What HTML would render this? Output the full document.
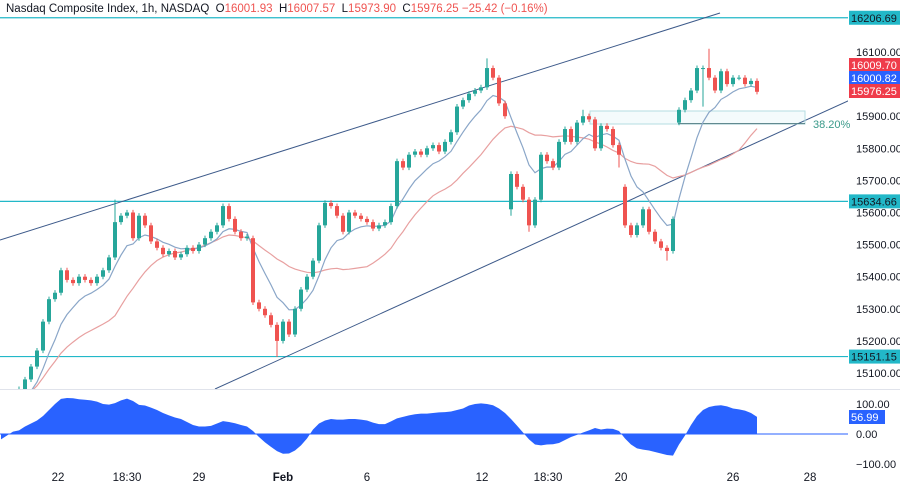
<!DOCTYPE html>
<html><head><meta charset="utf-8">
<style>
html,body{margin:0;padding:0;background:#fff;}
svg{display:block;font-family:"Liberation Sans",sans-serif;}
</style></head>
<body>
<svg id="chart" width="900" height="485" viewBox="0 0 900 485" xmlns="http://www.w3.org/2000/svg">
<defs><clipPath id="pc"><rect x="0" y="0" width="848" height="389"/></clipPath><clipPath id="oc"><rect x="0" y="390" width="848" height="75"/></clipPath></defs>
<g id="grid"></g>
<g id="price" clip-path="url(#pc)"></g>
<g id="osc" clip-path="url(#oc)"></g>
<g id="axes"></g>
</svg>
<script>
const closes=[14980,15000,15020,15050,
15080,15120,15170,15260,15330,15350,15420,15390,15380,15400,15390,15380,15400,15420,15460,15570,15590,15600,15520,15590,15560,15510,15490,15470,15480,15460,15470,15490,15480,15500,15520,15540,15560,15620,15580,15540,15520,15525,
15320,15300,15280,15250,15200,15260,15220,15300,15360,15400,15450,15560,15630,15620,15590,15540,15600,15590,15580,15570,15550,15560,15570,15620,15760,15740,15780,15790,15780,15800,15810,15790,15820,15850,15930,15950,15970,15980,15990,16050,16020,15940,15900,
15720,15680,15640,15560,15640,15780,15760,15740,15820,15860,15820,15880,15900,15890,15800,15870,15860,15810,15780,
15560,15530,15560,15610,15540,15510,15490,15480,15580,15920,15950,15980,16050,16050,16020,15980,16040,16000,16020,16020,16000,16010,15976];
const gapOpens={42:15520,85:15610,104:15680,113:15880};
const spikes={19:15640,46:15150,81:16080,85:15590,88:15540,97:15920,103:15740,111:15450,118:16110,117:15930};
const oscValues=[-18,-5,8,12,25,35,45,60,80,100,117,120,119,116,114,112,108,100,98,103,112,118,110,97,95,88,80,70,62,55,50,40,30,25,25,27,35,43,40,36,30,25,10,-10,-28,-43,-57,-66,-65,-55,-38,-15,15,35,45,50,48,48,50,50,48,45,38,33,33,42,52,57,62,66,68,68,70,72,73,75,80,85,95,100,102,100,96,85,70,50,28,5,-18,-35,-38,-35,-34,-30,-20,-10,-3,5,12,20,15,18,17,10,-15,-35,-48,-52,-55,-60,-65,-70,-72,-35,-5,30,60,80,90,94,96,92,85,82,78,70,57];
const priceTicks=[16100,15900,15800,15700,15600,15500,15400,15300,15200,15100];
const levels=[16206.69,15634.66,15151.15];
const oscTicks=[100,0,-100];
const xLabels=[["22",58],["18:30",127],["29",199],["Feb",283],["6",367],["12",482],["18:30",548],["20",621],["26",733],["28",810]];

const NS="http://www.w3.org/2000/svg";
const yP=p=>52+(16100-p)*0.321;
const yO=v=>434-v*0.3;
const xI=i=>1+i*6;
const G=id=>document.getElementById(id);
function mk(tag,attrs,parent){const e=document.createElementNS(NS,tag);for(const k in attrs)e.setAttribute(k,attrs[k]);parent.appendChild(e);return e;}
const price=G('price'),osc=G('osc'),axes=G('axes');
const UP="#26a69a",DN="#ef5350";

let sep=mk('line',{x1:0,y1:389.5,x2:900,y2:389.5,stroke:"#e0e3eb"},axes);



levels.forEach(l=>{const e=mk('line',{x1:0,x2:848,y1:yP(l),y2:yP(l),stroke:"#22b8c8","stroke-width":1.2},price);

});

let c1=mk('line',{x1:0,y1:240,x2:720,y2:13,stroke:"#3d5a8a","stroke-width":1},price);


let c2=mk('line',{x1:215,y1:389,x2:850,y2:100,stroke:"#3d5a8a","stroke-width":1},price);



let fb=mk('rect',{x:590,y:111,width:215,height:13,fill:"rgba(34,184,200,0.05)",stroke:"#b5dde2","stroke-width":1},price);


let fl=mk('line',{x1:678,x2:805,y1:yP(15877),y2:yP(15877),stroke:"#4c7a80"},price);


let ft=mk('text',{x:813,y:128,"font-size":11,fill:"#3a9a8a"},axes);ft.textContent="38.20%";



function ema(arr,n){const k=2/(n+1);let out=[],v=arr[0];arr.forEach(c=>{v=c*k+v*(1-k);out.push(v);});return out;}
function sma(arr,n){return arr.map((c,i)=>{const s=arr.slice(Math.max(0,i-n+1),i+1);return s.reduce((a,b)=>a+b,0)/s.length;});}
function maPath(vals){return vals.map((v,i)=>(i?"L":"M")+xI(i)+","+yP(v).toFixed(1)).join("");}
let mr=mk('path',{d:maPath(sma(closes,20)),fill:"none",stroke:"#e8a0a0","stroke-width":1.2},price);


let mb=mk('path',{d:maPath(ema(closes,8)),fill:"none",stroke:"#8aa6c8","stroke-width":1.2},price);



closes.forEach((c,i)=>{
  const o=(gapOpens[i]!==undefined)?gapOpens[i]:(i?closes[i-1]:c-10);
  let hi=Math.max(o,c)+8,lo=Math.min(o,c)-8;
  if(spikes[i]!==undefined){if(spikes[i]>hi)hi=spikes[i];if(spikes[i]<lo)lo=spikes[i];}
  const col=c>=o?UP:DN,x=xI(i);
  const g=mk('g',{},price);
  
  
  mk('line',{x1:x,x2:x,y1:yP(hi),y2:yP(lo),stroke:col,"stroke-width":1},g);
  const top=yP(Math.max(o,c)),h=Math.max(1,yP(Math.min(o,c))-top);
  mk('rect',{x:x-2,y:top,width:4,height:h,fill:col},g);
});

let d="M"+xI(0)+","+yO(0);
oscValues.forEach((v,i)=>{d+="L"+xI(i)+","+yO(v).toFixed(1);});
d+="L"+xI(oscValues.length-1)+","+yO(0)+"Z";
let oa=mk('path',{d:d,fill:"#2962ff"},osc);


let z=mk('line',{x1:0,x2:848,y1:yO(0),y2:yO(0),stroke:"#2962ff"},osc);



priceTicks.forEach(t=>{const e=mk('text',{x:856,y:yP(t)+4,"font-size":11,fill:"#131722"},axes);e.textContent=t.toFixed(2);

});
oscTicks.forEach(t=>{const e=mk('text',{x:856,y:yO(t)+4,"font-size":11,fill:"#131722"},axes);e.textContent=t.toFixed(2).replace("-","\u2212");

});

function badge(y,txt,bg,fg,name,w){const g=mk('g',{},axes);


mk('rect',{x:849,y:y-7,width:w||51,height:14,fill:bg},g);
const t=mk('text',{x:851,y:y+4,"font-size":11,fill:fg},g);t.textContent=txt;}
badge(yP(16206.69),"16206.69","#22b8c8","#131722","level-badge-16206");
badge(65,"16009.70","#ef3b4a","#fff","ma-badge-16009");
badge(78,"16000.82","#2962ff","#fff","ma-badge-16000");
badge(91,"15976.25","#ef3b4a","#fff","last-price-badge");
badge(yP(15634.66),"15634.66","#22b8c8","#131722","level-badge-15634");
badge(yP(15151.15),"15151.15","#22b8c8","#131722","level-badge-15151");
badge(417,"56.99","#2962ff","#fff","oscillator-value-badge",36);

xLabels.forEach(([t,x])=>{const e=mk('text',{x:x,y:481,"font-size":11.5,fill:"#131722","text-anchor":"middle","font-weight":t==="Feb"?"bold":"normal"},axes);e.textContent=t;

});

const h=mk('text',{x:6,y:12,"font-size":11.5,fill:"#131722"},axes);


const parts=[["Nasdaq Composite Index, 1h, NASDAQ  O","#131722"],["16001.93","#ef5350"],["  H","#131722"],["16007.57","#ef5350"],["  L","#131722"],["15973.90","#ef5350"],["  C","#131722"],["15976.25 \u221225.42 (\u22120.16%)","#ef5350"]];
parts.forEach(([t,c])=>{const s=mk('tspan',{fill:c},h);s.setAttribute('xml:space','preserve');s.textContent=t;});
h.setAttribute('style','white-space:pre');
</script>
</body></html>
